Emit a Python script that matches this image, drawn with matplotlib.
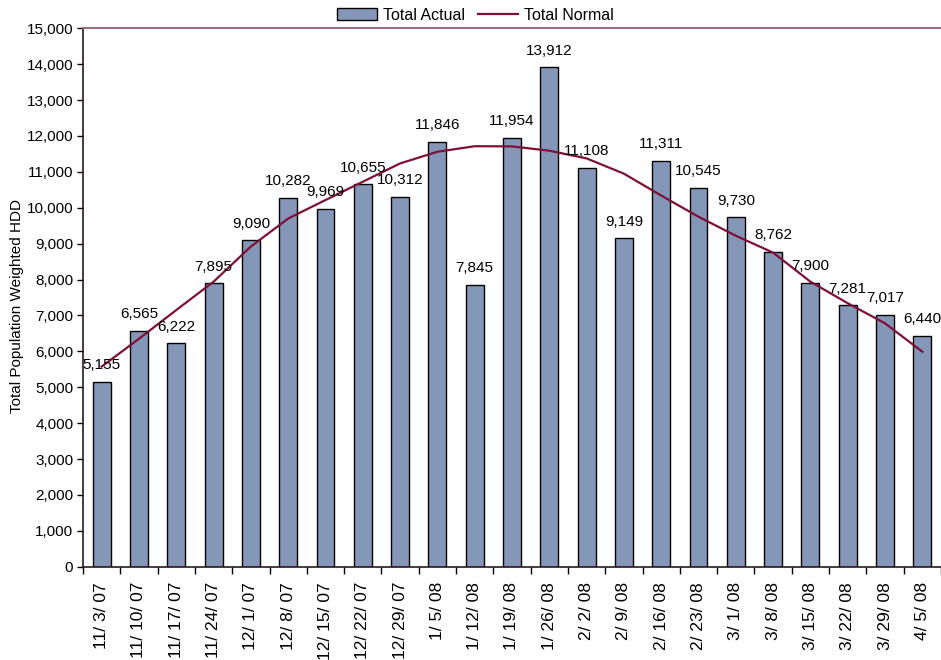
import numpy as np
import matplotlib
matplotlib.use("Agg")
import matplotlib.pyplot as plt
from matplotlib.ticker import FuncFormatter, FixedLocator

plt.rcParams["font.family"] = ["Liberation Sans", "DejaVu Sans"]

weeks = ["11/ 3/ 07", "11/ 10/ 07", "11/ 17/ 07", "11/ 24/ 07", "12/ 1/ 07",
         "12/ 8/ 07", "12/ 15/ 07", "12/ 22/ 07", "12/ 29/ 07", "1/ 5/ 08",
         "1/ 12/ 08", "1/ 19/ 08", "1/ 26/ 08", "2/ 2/ 08", "2/ 9/ 08",
         "2/ 16/ 08", "2/ 23/ 08", "3/ 1/ 08", "3/ 8/ 08", "3/ 15/ 08",
         "3/ 22/ 08", "3/ 29/ 08", "4/ 5/ 08"]
total_actual = [5155, 6565, 6222, 7895, 9090, 10282, 9969, 10655, 10312, 11846,
                7845, 11954, 13912, 11108, 9149, 11311, 10545, 9730, 8762, 7900,
                7281, 7017, 6440]
total_normal = [5575, 6350, 7150, 7940, 8920, 9700, 10215, 10725, 11235, 11560,
                11715, 11710, 11590, 11375, 10950, 10340, 9750, 9220, 8750, 7940,
                7340, 6780, 5990]

bar_color = "#8497b9"
line_color = "#7f1035"
fs = 11

fig = plt.figure(figsize=(9.41, 6.6), dpi=100)
ax = fig.add_axes([83 / 941, 1 - 566.7 / 660, 1 - 83 / 941, (566.7 - 28.3) / 660])

x = np.arange(len(weeks))
bars = ax.bar(x, total_actual, width=0.48, color=bar_color, edgecolor="black",
              linewidth=1.0, label="Total Actual", zorder=2)
line, = ax.plot(x, total_normal, color=line_color, linewidth=1.6, label="Total Normal", zorder=3)

for xi, v in zip(x, total_actual):
    ax.annotate(f"{v:,}", (xi, v), xytext=(0, 7), textcoords="offset points",
                ha="center", va="bottom", fontsize=fs, color="black", zorder=4)

ax.set_xlim(-0.5, len(weeks) - 0.5)
ax.set_ylim(0, 15000)
ax.set_yticks(np.arange(0, 15001, 1000))
ax.yaxis.set_major_formatter(FuncFormatter(lambda v, p: f"{int(v):,}"))
ax.tick_params(axis="y", labelsize=fs, length=4, width=1, direction="out", pad=3)

ax.set_xticks(x)
ax.set_xticklabels(weeks, rotation=90, fontsize=12.5, ha="center", va="top")
ax.tick_params(axis="x", which="major", length=0, pad=11)
ax.xaxis.set_minor_locator(FixedLocator(np.arange(-0.5, len(weeks), 1.0)))
ax.tick_params(axis="x", which="minor", length=5, width=1, direction="out")

ax.set_ylabel("Total Population Weighted HDD", fontsize=fs)
ax.yaxis.set_label_coords(-0.069, 0.485)

ax.spines["right"].set_visible(False)
ax.spines["top"].set_color("#9a6f82")
ax.spines["top"].set_linewidth(1.5)
ax.spines["left"].set_color("#2a1a1e")
ax.spines["bottom"].set_color("#2a1a1e")
ax.spines["left"].set_linewidth(1.2)
ax.spines["bottom"].set_linewidth(1.2)

fig.legend([bars, line], ["Total Actual", "Total Normal"], loc="upper center",
           bbox_to_anchor=(0.505, 1.01), ncol=2, frameon=False, fontsize=11.5,
           handlelength=2.5, handleheight=0.8, columnspacing=0.8, handletextpad=0.4)

fig.savefig("out.png", dpi=100)
